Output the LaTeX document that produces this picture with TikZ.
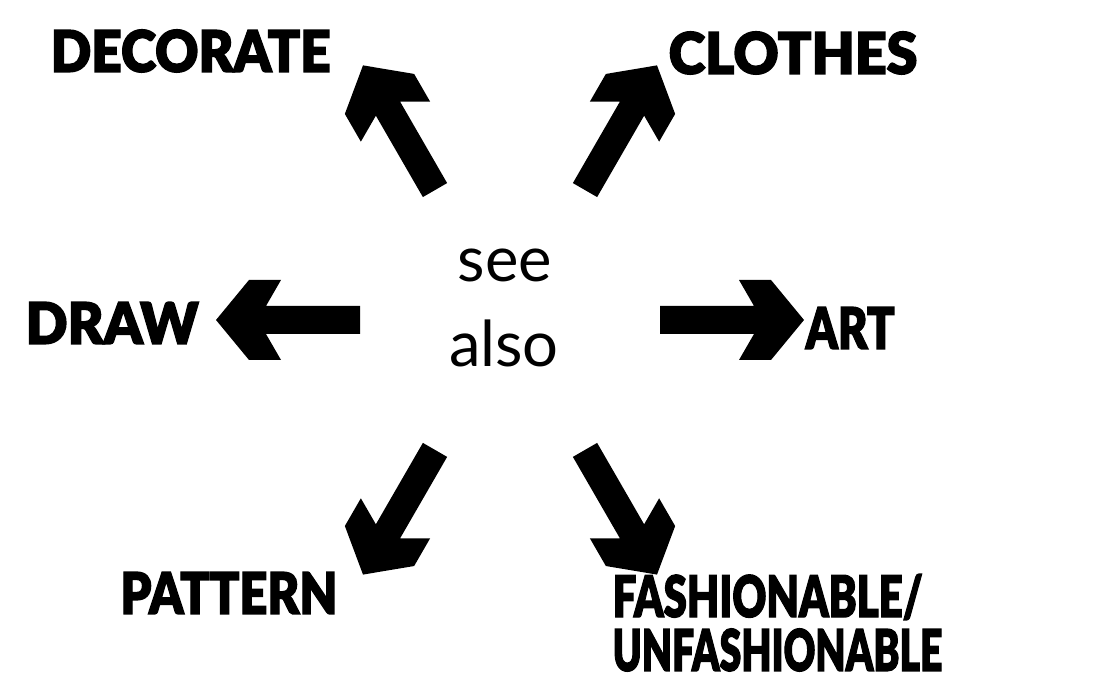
\documentclass[tikz,border=0pt]{standalone}
\usepackage{fontspec}
\setmainfont{Lato}
\newfontfamily\heavy[FakeBold=2.5]{Lato Black}
\begin{document}
\begin{tikzpicture}[x=0.01cm,y=0.01cm,
  lbl/.style={font=\heavy\fontsize{16.3}{18}\selectfont, inner sep=0pt, text=black},
  seetxt/.style={font=\fontsize{18}{20}\selectfont, inner sep=0pt, anchor=base},
  blockarrow/.pic={\fill[black] (150,14) -- (244,14) -- (229,40) -- (261,40) -- (294,0)
      -- (261,-40) -- (229,-40) -- (244,-14) -- (150,-14) -- cycle;}]
\useasboundingbox (0,0) rectangle (1109,680);
\fill[white] (0,0) rectangle (1109,680);
\coordinate (c) at (510,360);
\node[seetxt] (see) at (505,398) {see};
\node[seetxt] (also) at (504,313) {also};
\pic[rotate=120] at (c) {blockarrow};
\pic[rotate=60] at (c) {blockarrow};
\pic[rotate=180] at (c) {blockarrow};
\pic[rotate=0] at (c) {blockarrow};
\pic[rotate=240] at (c) {blockarrow};
\pic[rotate=300] at (c) {blockarrow};
\node[lbl, anchor=west] (decorate) at (50,629) {\scalebox{0.93}[1]{DECORATE}};
\node[lbl, anchor=west] (clothes) at (668,627) {\scalebox{0.97}[1]{CLOTHES}};
\node[lbl, anchor=west] (draw) at (25,357) {\scalebox{0.96}[1]{DRAW}};
\node[lbl, anchor=west] (art) at (805,352) {\scalebox{0.79}[1]{ART}};
\node[lbl, anchor=east] (pattern) at (338,87) {\scalebox{0.85}[1]{PATTERN}};
\node[lbl, anchor=west] (fash) at (612,83) {\scalebox{0.73}[1]{FASHIONABLE/}};
\node[lbl, anchor=west] (unfash) at (612,30) {\scalebox{0.68}[1]{UNFASHIONABLE}};
\end{tikzpicture}
\end{document}
